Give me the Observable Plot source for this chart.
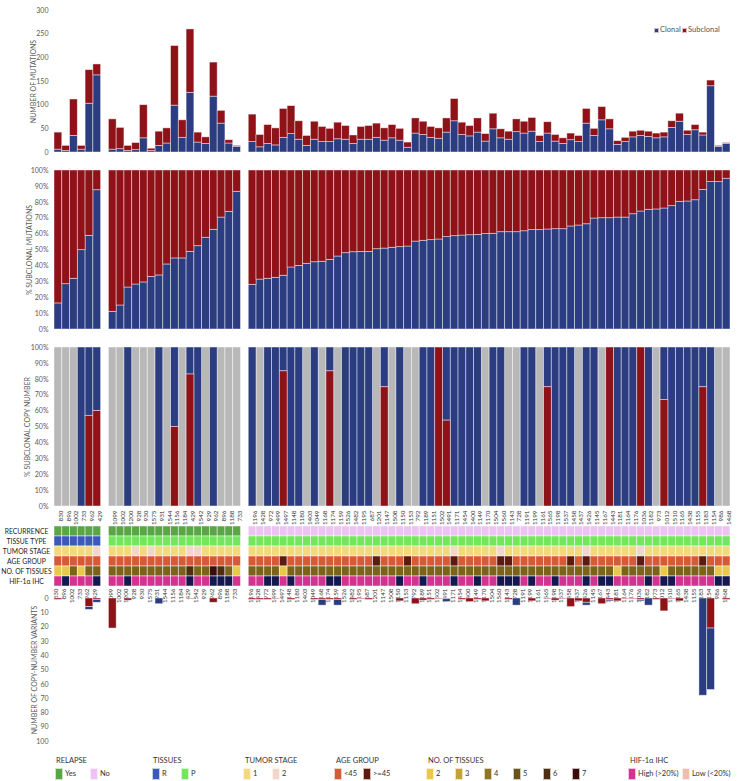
<!DOCTYPE html>
<html><head><meta charset="utf-8">
<script src="https://cdn.jsdelivr.net/npm/d3@7"></script>
<script src="https://cdn.jsdelivr.net/npm/@observablehq/plot@0.6"></script>
<style>
body{margin:0;background:#fff;font-family:Lato,"Liberation Sans",sans-serif;}
#chart{position:relative;width:738px;height:781px;overflow:hidden;background:#fff}
#chart svg{position:absolute;left:0;overflow:visible}
.leg{position:absolute;font-size:8px;color:#333;white-space:nowrap;line-height:10px}
.sw{position:absolute;width:8px;height:12px;box-sizing:border-box;border:1px solid rgba(255,255,255,0.7)}
</style></head><body><div id="chart"></div>
<script>
// ---------- DATA ----------
const group1Ids = ["830","896","1002","733","962","429"];
const group2Ids = ["1099","1002","1200","928","930","1575","931","1544","1156","1184","429","1542","929","962","896","1188","733"];
const group3Ids = ["1196","1428","972","1499","1497","1148","1180","1403","1049","1168","1174","1159","1526","1482","1195","687","1201","1147","1508","1150","1153","792","1189","1151","1502","1491","1171","1454","1400","1149","1170","1504","1560","1143","728","1191","1199","1161","1565","1198","1537","1458","1437","1426","1145","1167","1443","1181","1164","1176","1036","1182","973","1012","1510","1165","1438","1155","1183","1154","986","1468"];

// number of mutations (total) and clonal part
const totalMutations = [42,14,112,14,174,186,
  70,52,14,20,100,8,44,51,225,68,260,42,32,190,88,26,14,
  80,37,58,51,92,98,66,35,65,54,50,63,56,36,54,56,61,51,58,50,21,72,65,54,51,72,113,63,56,72,39,82,
  49,44,70,65,73,35,64,37,30,40,35,92,50,96,70,24,31,44,46,44,40,42,66,82,46,58,42,152,14,20];
const clonalMutations = [6,3,35,6,103,163,
  6,7,3,5,30,3,14,19,99,31,126,21,18,118,61,19,12,
  22,11,18,15,31,39,27,14,27,22,22,28,27,18,27,27,31,25,30,25,10,40,37,31,29,42,66,37,34,42,23,49,
  30,27,43,40,44,22,40,23,18,26,22,61,35,68,49,16,22,32,35,33,30,32,52,65,37,47,36,140,12,18];
// % clonal mutations (blue part of second panel)
const clonalPct = [16.4,28.5,31.9,49.9,58.9,87.6,
  11.1,15.1,26.4,28.3,29.6,33.1,34.0,40.9,44.7,44.7,48.8,52.4,57.7,62.7,70.4,74.0,86.6,
  28.1,31.4,31.9,32.5,33.8,39.0,40.0,41.3,42.3,42.6,43.8,45.9,48.0,48.6,48.8,48.8,50.5,50.9,51.4,51.8,52.2,55.3,55.8,56.2,56.6,58.1,58.7,59.1,59.3,59.5,60.0,60.2,
  61.2,61.2,61.2,61.8,62.5,62.5,62.9,63.1,63.1,64.8,65.4,66.2,69.8,70.0,70.0,70.4,70.4,72.5,74.2,75.3,75.5,76.1,77.6,80.3,80.5,81.3,87.8,92.7,92.7,94.8];
// % subclonal copy number (null = no data, grey)
const subclonalCnPct = [null,null,null,0,57,60,
  null,null,0,null,null,null,0,null,50,null,83,0,null,0,null,null,null,
  0,null,0,0,85,0,0,null,0,null,85,null,0,0,0,0,null,75,null,0,null,null,0,0,100,54,0,0,0,0,null,0,
  0,null,null,0,0,null,75,0,0,0,null,0,0,null,100,0,0,0,100,0,null,67,0,0,0,0,75,0,null,null];
// number of copy-number variants: subclonal (red) and clonal (blue)
const cnvSubclonal = [1,0,0,0,6,1,
  21,0,1.5,0,0,0,0,0,0,0,0.5,0,0,3,0,0,0,
  1,1,1,0.5,0,1,0,0,1,1,1,1,0,1,0.5,1,0,0,0,2,0,4,1.5,1,0.5,0.5,0,1,2.5,1,2,0,
  0,1,0,0,2,0,0.5,1.5,0.5,6,2,3,0,4,1,2,0.5,0.5,1,0,1,9,0.5,2,0,0,0,21,0,1];
const cnvClonal = [0,0,0,0,2,2,
  0,0,0,0,0,0,4,0,0,0,0,0,0,0,0,0,0,
  0,0,0,0,0,0,0,0,0,4,0,4,0,0,0,0,0,0,0,0,0,0,0,0,0,2,0,0,0,0,0,0,
  0,0,5,0,0,0,0,0,0,0,0,2,0,0,1,0,0,0,1,5,0,0,0,0,0,0,68,43,0,0];
// annotation tracks (one code per sample, groups separated by "|")
const recurrenceCodes = "YYYYYY|YYYYYYYYYYYYYYYYY|NNNNNNNNNNNNNNNNNNNNNNNNNNNNNNNNNNNNNNNNNNNNNNNNNNNNNNNNNNNNNN";
const tissueCodes     = "RRRRRR|PPPPPPPPPPPPPPPPP|PPPPPPPPPPPPPPPPPPPPPPPPPPPPPPPPPPPPPPPPPPPPPPPPPPPPPPPPPPPPPP";
const stageCodes      = "111112|11121211112211111|11111111111111111111111111211111211111111112111111211111111111";
const ageCodes        = "yyyyyy|yyyyyyyyyyyyyyyyy|yyyyoyyyyyyyyyyyoyyyoyyyyyoyyyyyooyyyyyyyoyoyyyyyyoyyyyyyyoyyy";
const nTissueCodes    = "224244|44444444446447642|44442444444444444444444444444444444444444444444244444244444422";
const hifCodes        = "HnHHHn|HHnHHHHHHHnHHnnnH|HHnnHnHHHHnnHHHHHHHnHHnHHHnHHnHHnnnHnHHnHHHnHnnHHHHnHnnHHHHHnn";

// ---------- COLOURS ----------
const BLUE = "#2b3d80", RED = "#8e1218", GREY = "#b8b8b8", NAVY = "#15174f";
const trackColors = {
  "RECURRENCE": {Y:"#5aa545", N:"#ecc3f3"},
  "TISSUE TYPE": {R:"#3b59b9", P:"#74e65c"},
  "TUMOR STAGE": {"1":"#f2da7c", "2":"#f2d6cb"},
  "AGE GROUP": {y:"#d75a38", o:"#5c1a10"},
  "NO. OF TISSUES": {"2":"#e9c84a","3":"#c3a23a","4":"#7b6419","5":"#6b5317","6":"#4d2e12","7":"#3a0f0a"},
  "HIF-1α IHC": {H:"#d3338f", L:"#eebfb0", n:NAVY}
};
const trackCodes = {
  "RECURRENCE": recurrenceCodes, "TISSUE TYPE": tissueCodes, "TUMOR STAGE": stageCodes,
  "AGE GROUP": ageCodes, "NO. OF TISSUES": nTissueCodes, "HIF-1α IHC": hifCodes
};
const rows = Object.keys(trackCodes);

// ---------- BUILD TABLE ----------
const groups = [group1Ids, group2Ids, group3Ids];
const keys = [], samples = [];
let n = 0;
groups.forEach((g, gi) => {
  if (gi > 0) keys.push("gap" + gi);
  g.forEach((id, i) => {
    const key = "s" + n;
    keys.push(key);
    samples.push({key, id, total: totalMutations[n], clonal: clonalMutations[n],
      pct: clonalPct[n], cn: subclonalCnPct[n], red: cnvSubclonal[n], blue: cnvClonal[n]});
    n++;
  });
});
const codeLists = {};
rows.forEach(r => codeLists[r] = trackCodes[r].replace(/\|/g, "").split(""));
const cells = [];
samples.forEach((s, i) => rows.forEach(r => cells.push({key: s.key, row: r, fill: trackColors[r][codeLists[r][i]]})));

// ---------- COMMON ----------
const W = 738, ML = 54, MR = 8;
const font = {fontFamily: "Lato, 'Liberation Sans', sans-serif", fontSize: "7px", color: "#595959", background: "transparent"};
const xScale = {domain: keys, padding: 0, axis: null};
const sep = {stroke: "white", strokeOpacity: 0.55, strokeWidth: 0.8};
const chart = document.getElementById("chart");
function place(svg, top) { svg.style.top = top + "px"; chart.appendChild(svg); }
const pctTicks = d3.range(0, 101, 10);

// Panel 1: number of mutations
place(Plot.plot({
  width: W, height: 160, marginLeft: ML, marginRight: MR, marginTop: 10, marginBottom: 8,
  style: font, x: xScale, y: {domain: [0, 300]},
  marks: [
    Plot.axisY({ticks: d3.range(0, 301, 50), tickSize: 0, tickPadding: 6, label: "NUMBER OF MUTATIONS",
      labelAnchor: "center", labelArrow: "none", labelOffset: 23}),
    Plot.barY(samples, {x: "key", y1: 0, y2: "clonal", fill: BLUE, ...sep}),
    Plot.barY(samples, {x: "key", y1: "clonal", y2: "total", fill: RED, ...sep})
  ]
}), 0);

// Panel 2: % subclonal mutations
place(Plot.plot({
  width: W, height: 175, marginLeft: ML, marginRight: MR, marginTop: 10, marginBottom: 6,
  style: font, x: xScale, y: {domain: [0, 100]},
  marks: [
    Plot.axisY({ticks: pctTicks, tickFormat: d => d + "%", tickSize: 0, tickPadding: 6,
      label: "% SUBCLONAL MUTATIONS", labelAnchor: "center", labelArrow: "none", labelOffset: 27}),
    Plot.barY(samples, {x: "key", y1: 0, y2: "pct", fill: BLUE, ...sep}),
    Plot.barY(samples, {x: "key", y1: "pct", y2: 100, fill: RED, ...sep})
  ]
}), 160);

// Panel 3: % subclonal copy number
place(Plot.plot({
  width: W, height: 175, marginLeft: ML, marginRight: MR, marginTop: 12, marginBottom: 4,
  style: font, x: xScale, y: {domain: [0, 100]},
  marks: [
    Plot.axisY({ticks: pctTicks, tickFormat: d => d + "%", tickSize: 0, tickPadding: 6,
      label: "% SUBCLONAL COPY NUMBER", labelAnchor: "center", labelArrow: "none", labelOffset: 29}),
    Plot.barY(samples.filter(s => s.cn == null), {x: "key", y1: 0, y2: 100, fill: GREY, ...sep}),
    Plot.barY(samples.filter(s => s.cn != null), {x: "key", y1: "cn", y2: 100, fill: BLUE, ...sep}),
    Plot.barY(samples.filter(s => s.cn > 0), {x: "key", y1: 0, y2: "cn", fill: RED, ...sep})
  ]
}), 335);

// Heat-map tracks with sample labels above and below
place(Plot.plot({
  width: W, height: 100, marginLeft: ML, marginRight: MR, marginTop: 19, marginBottom: 18,
  style: {...font, color: "#222"}, x: xScale,
  y: {domain: rows, padding: 0},
  color: {type: "identity"},
  marks: [
    Plot.axisY({tickSize: 0, tickPadding: 3, textAnchor: "middle", dx: -25, label: null, fontSize: 6.8}),
    Plot.cell(cells, {x: "key", y: "row", fill: "fill", stroke: "white", strokeOpacity: 0.6, strokeWidth: 0.8}),
    Plot.text(samples, {x: "key", text: "id", frameAnchor: "top", dy: -14, rotate: -90, textAnchor: "end", fill: "#333", fontSize: 6.3}),
    Plot.text(samples, {x: "key", text: "id", frameAnchor: "bottom", dy: 1, rotate: -90, textAnchor: "end", fill: "#333", fontSize: 6.3})
  ]
}), 505);

// Panel 4: number of copy-number variants (downwards)
place(Plot.plot({
  width: W, height: 160, marginLeft: ML, marginRight: MR, marginTop: 8, marginBottom: 9,
  style: font, x: xScale, y: {domain: [0, 100], reverse: true},
  marks: [
    Plot.axisY({ticks: pctTicks, tickSize: 0, tickPadding: 6, label: "NUMBER OF COPY-NUMBER VARIANTS",
      labelAnchor: "center", labelArrow: "none", labelOffset: 22}),
    Plot.barY(samples.filter(s => s.red > 0), {x: "key", y1: 0, y2: "red", fill: RED, ...sep}),
    Plot.barY(samples.filter(s => s.blue > 0), {x: "key", y1: "red", y2: d => d.red + d.blue, fill: BLUE, ...sep})
  ]
}), 590);

// ---------- HTML LEGENDS ----------
function legText(x, y, t, size, color) {
  const d = document.createElement("div"); d.className = "leg"; d.textContent = t;
  d.style.left = x + "px"; d.style.top = y + "px";
  if (size) d.style.fontSize = size + "px"; if (color) d.style.color = color;
  chart.appendChild(d);
}
function swatch(x, y, c, w, h) {
  const d = document.createElement("div"); d.className = "sw"; d.style.background = c;
  d.style.left = x + "px"; d.style.top = y + "px";
  if (w) d.style.width = w + "px"; if (h) d.style.height = h + "px";
  chart.appendChild(d);
}
// top legend
swatch(654, 28, BLUE, 5, 5); legText(660, 25, "Clonal", 7.5, "#555");
swatch(682, 28, RED, 5, 5); legText(688, 25, "Subclonal", 7.5, "#555");
// bottom legend
const legendBlocks = [
  {title: "RELAPSE", tx: 56, items: [["Yes", "#5aa545", 55], ["No", "#ecc3f3", 90]]},
  {title: "TISSUES", tx: 153, items: [["R", "#3b59b9", 152], ["P", "#74e65c", 181]]},
  {title: "TUMOR STAGE", tx: 245, items: [["1", "#f2da7c", 243], ["2", "#f2d6cb", 272]]},
  {title: "AGE GROUP", tx: 336, items: [["<45", "#d75a38", 334], [">=45", "#5c1a10", 363]]},
  {title: "NO. OF TISSUES", tx: 428, items: [["2","#e9c84a",426],["3","#c3a23a",455],["4","#8f7425",484],["5","#6b5317",513],["6","#4d2e12",543],["7","#3a0f0a",572]]},
  {title: "HIF-1α IHC", tx: 630, items: [["High (>20%)", "#d3338f", 628], ["Low (<20%)", "#eebfb0", 682]]}
];
legendBlocks.forEach(b => {
  legText(b.tx, 756, b.title, 7.5, "#333");
  b.items.forEach(([t, c, x]) => { swatch(x, 768, c); legText(x + 10, 769, t, 7.5, "#333"); });
});
</script></body></html>
